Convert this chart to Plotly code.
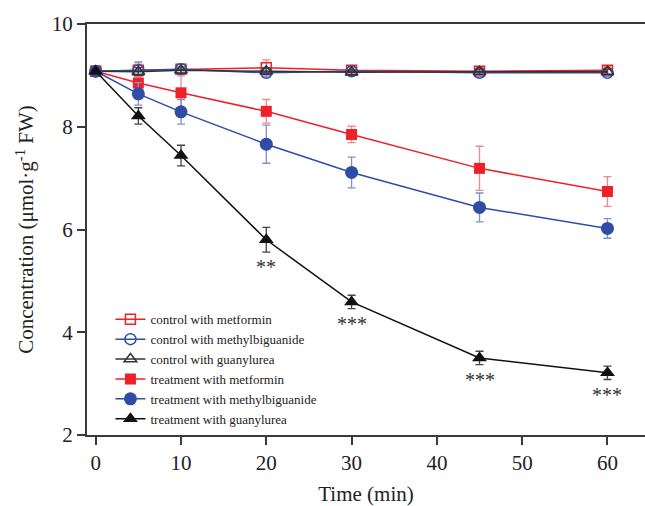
import plotly.graph_objects as go

# ---- data ----
time_min = [0, 5, 10, 20, 30, 45, 60]

ctrl_metformin = [9.08, 9.10, 9.12, 9.15, 9.10, 9.08, 9.10]
ctrl_metformin_err = [0.07, 0.12, 0.10, 0.15, 0.06, 0.07, 0.07]
ctrl_methylbig = [9.08, 9.10, 9.12, 9.05, 9.08, 9.05, 9.05]
ctrl_methylbig_err = [0.08, 0.16, 0.10, 0.08, 0.07, 0.08, 0.07]
ctrl_guanyl = [9.08, 9.07, 9.10, 9.08, 9.06, 9.07, 9.07]
ctrl_guanyl_err = [0.06, 0.08, 0.06, 0.06, 0.05, 0.05, 0.05]

trt_metformin = [9.08, 8.85, 8.66, 8.30, 7.85, 7.19, 6.74]
trt_metformin_err = [0.07, 0.12, 0.33, 0.23, 0.16, 0.43, 0.29]
trt_methylbig = [9.08, 8.64, 8.29, 7.66, 7.11, 6.43, 6.02]
trt_methylbig_err = [0.08, 0.22, 0.24, 0.37, 0.30, 0.28, 0.19]
trt_guanyl = [9.08, 8.21, 7.44, 5.80, 4.59, 3.50, 3.21]
trt_guanyl_err = [0.06, 0.16, 0.20, 0.24, 0.13, 0.13, 0.13]

sig_times = [20, 30, 45, 60]
sig_labels = ["**", "***", "***", "***"]

x_ticks = [0, 10, 20, 30, 40, 50, 60]
y_ticks = [2, 4, 6, 8, 10]

RED = "#EE2129"
BLUE = "#2F4DA6"
BLACK = "#111111"
RED_ERR = "#F3878B"
BLUE_ERR = "#7F8FD0"
GREY_ERR = "#444444"
SERIF = "Liberation Serif, Times New Roman, serif"

fig = go.Figure()

series = [
    ("control with metformin", ctrl_metformin, ctrl_metformin_err, RED, RED_ERR,
     dict(symbol="square-open", size=10, color=RED, line=dict(width=1.5, color=RED))),
    ("control with methylbiguanide", ctrl_methylbig, ctrl_methylbig_err, BLUE, BLUE_ERR,
     dict(symbol="circle-open", size=11, color=BLUE, line=dict(width=1.5, color=BLUE))),
    ("control with guanylurea", ctrl_guanyl, ctrl_guanyl_err, "#333333", GREY_ERR,
     dict(symbol="triangle-up-open", size=11, color="#333333", line=dict(width=1.5, color="#333333"))),
    ("treatment with metformin", trt_metformin, trt_metformin_err, RED, RED_ERR,
     dict(symbol="square", size=11, color=RED)),
    ("treatment with methylbiguanide", trt_methylbig, trt_methylbig_err, BLUE, BLUE_ERR,
     dict(symbol="circle", size=13, color=BLUE)),
    ("treatment with guanylurea", trt_guanyl, trt_guanyl_err, BLACK, GREY_ERR,
     dict(symbol="triangle-up", size=13, color=BLACK)),
]

for name, vals, errs, lc, ec, mk in series:
    fig.add_trace(go.Scatter(
        x=time_min, y=vals, name=name, mode="lines+markers",
        line=dict(color=lc, width=1.5),
        marker=mk,
        error_y=dict(type="data", array=errs, visible=True, color=ec, thickness=1.3, width=4),
    ))

# significance marks below guanylurea treatment points
for t, lab in zip(sig_times, sig_labels):
    i = time_min.index(t)
    fig.add_annotation(
        x=t, y=trt_guanyl[i] - trt_guanyl_err[i], text=lab, showarrow=False,
        yanchor="middle", yshift=-15, xanchor="center",
        font=dict(family=SERIF, size=20, color="#333333"),
    )

axis_common = dict(
    showline=True, linewidth=2, linecolor="#3a3a3a",
    ticks="outside", ticklen=8, tickwidth=1.5, tickcolor="#3a3a3a",
    showgrid=False, zeroline=False,
    tickfont=dict(family=SERIF, size=21, color="#222222"),
)

fig.update_layout(
    width=645, height=506,
    margin=dict(l=87, r=0, t=24, b=71),
    paper_bgcolor="white", plot_bgcolor="white",
    showlegend=True,
    legend=dict(
        x=0.042, y=0.318, xanchor="left", yanchor="top",
        bgcolor="rgba(0,0,0,0)", borderwidth=0,
        font=dict(family=SERIF, size=13, color="#222222"),
        tracegroupgap=0,
    ),
    xaxis=dict(
        range=[-1.02, 64.4], tickvals=x_ticks, mirror=True,
        title=dict(text="Time (min)", font=dict(family=SERIF, size=21, color="#222222"), standoff=14),
        **axis_common,
    ),
    yaxis=dict(
        range=[2, 10], tickvals=y_ticks, mirror=False,
        title=dict(text="Concentration (μmol·g<sup>-1</sup> FW)", font=dict(family=SERIF, size=21, color="#222222"), standoff=12),
        **axis_common,
    ),
)

fig.write_html("out.html")
